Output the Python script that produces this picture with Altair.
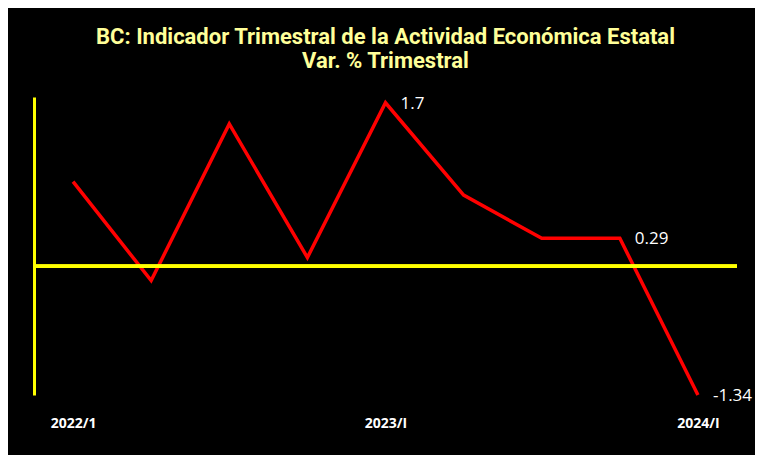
import altair as alt
import pandas as pd

quarters = ["2022/1", "2022/II", "2022/III", "2022/IV", "2023/I",
            "2023/II", "2023/III", "2023/IV", "2024/I"]
values = [0.88, -0.15, 1.48, 0.09, 1.7, 0.74, 0.29, 0.29, -1.34]
label_text = ["", "", "", "", "1.7", "", "", "0.29", "-1.34"]
axis_labels = ["2022/1", "2023/I", "2024/I"]

df = pd.DataFrame({"q": quarters, "v": values, "lab": label_text})

x = alt.X("q:N", sort=quarters,
          scale=alt.Scale(type="point", padding=0.5),
          axis=alt.Axis(values=axis_labels, title=None, domain=False, ticks=False,
                        labelAngle=0, labelColor="white", labelFont="Open Sans",
                        labelFontWeight="bold", labelFontSize=14, labelPadding=21))
y = alt.Y("v:Q", scale=alt.Scale(domain=[-1.34, 1.76], nice=False, zero=False),
          axis=alt.Axis(title=None, labels=False, ticks=False, grid=False,
                        domain=True, domainColor="#FFFF00", domainWidth=3))

base = alt.Chart(df)

zero = base.mark_rule(color="#FFFF00", strokeWidth=3).encode(y=alt.datum(0))
line = base.mark_line(color="#FF0000", strokeWidth=3.5).encode(x=x, y=y)
labels = base.transform_filter("datum.lab != ''").mark_text(
    align="left", baseline="middle", dx=15, dy=1, color="white",
    font="Open Sans", fontSize=17).encode(x=x, y=y, text="lab:N")

chart = alt.layer(line, zero, labels).properties(
    width=703, height=298,
    autosize=alt.AutoSizeParams(type="none"),
    padding={"left": 26, "top": 89, "right": 18, "bottom": 60},
    background="black",
    title=alt.TitleParams(
        ["BC: Indicador Trimestral de la Actividad Económica Estatal", "Var. % Trimestral"],
        color="#FFFF99", font="Roboto",
        fontSize=22, fontWeight="bold", anchor="middle", offset=22, lineHeight=24),
).configure_view(stroke=None)

chart.save("out.html", embed_options={"renderer": "svg", "actions": False})
